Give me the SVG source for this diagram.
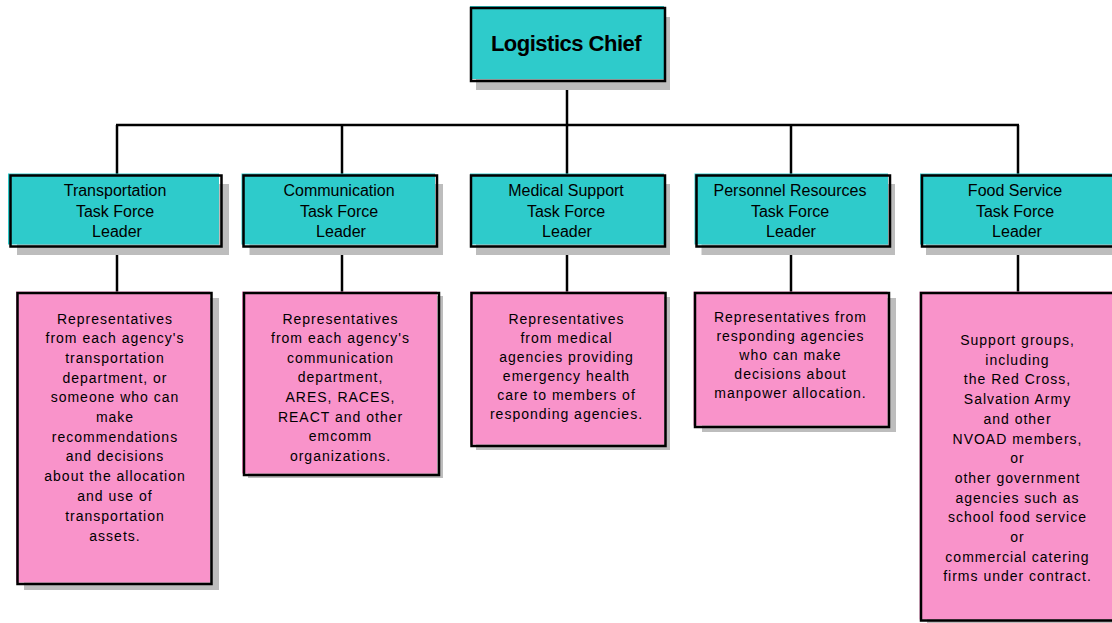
<svg xmlns="http://www.w3.org/2000/svg" width="1112" height="623" viewBox="0 0 1112 623">
<style>
.bg{fill:#ffffff}
.sh{fill:#bdbdbd}
.cy{fill:#2ecbcb}
.pk{fill:#f993ca}
.bd{fill:none;stroke:#000;stroke-width:2.5}
.ln{stroke:#000;stroke-width:2.5;fill:none}
.t0{font-family:"Liberation Sans",Arial,sans-serif;font-weight:bold;font-size:22px;letter-spacing:-0.5px;text-anchor:middle;fill:#000}
.t1{font-family:"Liberation Sans",Arial,sans-serif;font-size:16px;text-anchor:middle;fill:#000}
.t2{font-family:"Liberation Sans",Arial,sans-serif;font-size:14px;letter-spacing:1px;text-anchor:middle;fill:#000}
</style>
<rect class="bg" x="0" y="0" width="1112" height="623"/>
<g id="connectors">
<line class="ln" x1="567" y1="81" x2="567" y2="125"/>
<line class="ln" x1="116" y1="125" x2="1019" y2="125"/>
<line class="ln" x1="117" y1="125" x2="117" y2="176"/>
<line class="ln" x1="342" y1="125" x2="342" y2="176"/>
<line class="ln" x1="567" y1="125" x2="567" y2="176"/>
<line class="ln" x1="791" y1="125" x2="791" y2="176"/>
<line class="ln" x1="1018" y1="125" x2="1018" y2="176"/>
<line class="ln" x1="117" y1="247" x2="117" y2="293"/>
<line class="ln" x1="342" y1="247" x2="342" y2="293"/>
<line class="ln" x1="567" y1="247" x2="567" y2="293"/>
<line class="ln" x1="791" y1="247" x2="791" y2="293"/>
<line class="ln" x1="1018" y1="247" x2="1018" y2="293"/>
</g>
<g id="chief">
<rect class="sh" x="476" y="17" width="194" height="73"/>
<rect class="cy" x="470" y="6" width="194" height="73"/>
<rect class="bd" x="471" y="8" width="194" height="73"/>
<text class="t0" x="566" y="51">Logistics Chief</text>
</g>
<g id="lead-transportation">
<rect class="sh" x="17" y="184" width="212" height="71"/>
<rect class="cy" x="8" y="173.5" width="211" height="71"/>
<rect class="bd" x="10.5" y="175.5" width="211" height="71"/>
<text class="t1" x="115" y="196">Transportation</text>
<text class="t1" x="115" y="216.5">Task Force</text>
<text class="t1" x="117" y="236.5">Leader</text>
</g>
<g id="lead-communication">
<rect class="sh" x="249.5" y="184" width="193.5" height="71"/>
<rect class="cy" x="241.5" y="173.5" width="193.5" height="71"/>
<rect class="bd" x="243.5" y="175.5" width="193.5" height="71"/>
<text class="t1" x="339" y="196">Communication</text>
<text class="t1" x="339" y="216.5">Task Force</text>
<text class="t1" x="341" y="236.5">Leader</text>
</g>
<g id="lead-medical">
<rect class="sh" x="476" y="184" width="194" height="71"/>
<rect class="cy" x="470" y="173.5" width="194" height="71"/>
<rect class="bd" x="471" y="175.5" width="194" height="71"/>
<text class="t1" x="566" y="196">Medical Support</text>
<text class="t1" x="566" y="216.5">Task Force</text>
<text class="t1" x="567" y="236.5">Leader</text>
</g>
<g id="lead-personnel">
<rect class="sh" x="701.5" y="184" width="193.5" height="71"/>
<rect class="cy" x="694.5" y="173.5" width="193.5" height="71"/>
<rect class="bd" x="696.5" y="175.5" width="193.5" height="71"/>
<text class="t1" x="790" y="196">Personnel Resources</text>
<text class="t1" x="790" y="216.5">Task Force</text>
<text class="t1" x="791" y="236.5">Leader</text>
</g>
<g id="lead-food">
<rect class="sh" x="926" y="184" width="200" height="71"/>
<rect class="cy" x="920" y="173.5" width="200" height="71"/>
<rect class="bd" x="922" y="175.5" width="200" height="71"/>
<text class="t1" x="1015" y="196">Food Service</text>
<text class="t1" x="1015" y="216.5">Task Force</text>
<text class="t1" x="1017" y="236.5">Leader</text>
</g>
<g id="rep-transportation">
<rect class="sh" x="24" y="298" width="195" height="292"/>
<rect class="pk" x="16" y="291.5" width="194" height="291"/>
<rect class="bd" x="17.5" y="293" width="194" height="291"/>
<text class="t2" x="115" y="323.5">Representatives</text>
<text class="t2" x="115" y="343.2">from each agency's</text>
<text class="t2" x="115" y="362.9">transportation</text>
<text class="t2" x="115" y="382.6">department, or</text>
<text class="t2" x="115" y="402.3">someone who can</text>
<text class="t2" x="115" y="422">make</text>
<text class="t2" x="115" y="441.7">recommendations</text>
<text class="t2" x="115" y="461.4">and decisions</text>
<text class="t2" x="115" y="481.1">about the allocation</text>
<text class="t2" x="115" y="500.8">and use of</text>
<text class="t2" x="115" y="521">transportation</text>
<text class="t2" x="115" y="541">assets.</text>
</g>
<g id="rep-communication">
<rect class="sh" x="248" y="296" width="195" height="182"/>
<rect class="pk" x="242" y="291.5" width="195" height="182"/>
<rect class="bd" x="244" y="293" width="195" height="182"/>
<text class="t2" x="340.5" y="323.5">Representatives</text>
<text class="t2" x="340.5" y="343.1">from each agency's</text>
<text class="t2" x="340.5" y="362.7">communication</text>
<text class="t2" x="340.5" y="382.3">department,</text>
<text class="t2" x="340.5" y="401.9">ARES, RACES,</text>
<text class="t2" x="340.5" y="421.5">REACT and other</text>
<text class="t2" x="340.5" y="441.1">emcomm</text>
<text class="t2" x="340.5" y="460.7">organizations.</text>
</g>
<g id="rep-medical">
<rect class="sh" x="476" y="297" width="194" height="153"/>
<rect class="pk" x="470" y="291.5" width="194" height="153"/>
<rect class="bd" x="471.5" y="293" width="194" height="153"/>
<text class="t2" x="566.5" y="323.5">Representatives</text>
<text class="t2" x="566.5" y="342.5">from medical</text>
<text class="t2" x="566.5" y="361.5">agencies providing</text>
<text class="t2" x="566.5" y="380.5">emergency health</text>
<text class="t2" x="566.5" y="399.5">care to members of</text>
<text class="t2" x="566.5" y="418.5">responding agencies.</text>
</g>
<g id="rep-personnel">
<rect class="sh" x="702" y="298" width="194" height="134"/>
<rect class="pk" x="693.5" y="291.5" width="194" height="134"/>
<rect class="bd" x="695" y="293" width="194" height="134"/>
<text class="t2" x="790.5" y="321.5">Representatives from</text>
<text class="t2" x="790.5" y="340.6">responding agencies</text>
<text class="t2" x="790.5" y="359.7">who can make</text>
<text class="t2" x="790.5" y="378.8">decisions about</text>
<text class="t2" x="790.5" y="397.9">manpower allocation.</text>
</g>
<g id="rep-food">
<rect class="sh" x="927" y="298" width="200" height="330"/>
<rect class="pk" x="919.5" y="291.5" width="200" height="328"/>
<rect class="bd" x="921" y="293" width="200" height="327.5"/>
<text class="t2" x="1017.5" y="345">Support groups,</text>
<text class="t2" x="1017.5" y="364.7">including</text>
<text class="t2" x="1017.5" y="384.4">the Red Cross,</text>
<text class="t2" x="1017.5" y="404.1">Salvation Army</text>
<text class="t2" x="1017.5" y="423.8">and other</text>
<text class="t2" x="1017.5" y="443.5">NVOAD members,</text>
<text class="t2" x="1017.5" y="463.2">or</text>
<text class="t2" x="1017.5" y="482.9">other government</text>
<text class="t2" x="1017.5" y="502.6">agencies such as</text>
<text class="t2" x="1017.5" y="522.3">school food service</text>
<text class="t2" x="1017.5" y="542">or</text>
<text class="t2" x="1017.5" y="561.7">commercial catering</text>
<text class="t2" x="1017.5" y="581.4">firms under contract.</text>
</g>
</svg>
